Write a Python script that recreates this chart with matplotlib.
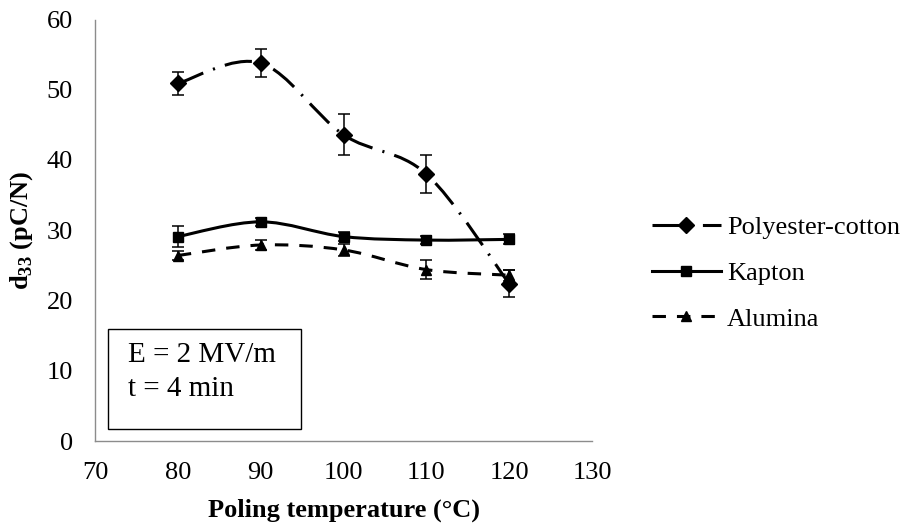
import numpy as np
import matplotlib
matplotlib.use("Agg")
import matplotlib.pyplot as plt
from matplotlib.path import Path
from matplotlib.patches import PathPatch, Rectangle
from matplotlib.lines import Line2D

# данные
temps = [80, 90, 100, 110, 120]
series_names = ["Polyester-cotton", "Kapton", "Alumina"]
polyester = [50.9, 53.8, 43.6, 38.0, 22.4]
polyester_err = [1.6, 2.0, 2.9, 2.7, 1.9]
kapton = [29.1, 31.2, 29.1, 28.6, 28.7]
kapton_err = [1.5, 0.6, 0.6, 0.6, 0.7]
alumina = [26.4, 27.9, 27.2, 24.4, 23.6]
alumina_err = [0.6, 0.7, 0.8, 1.4, 0.8]
x_ticks = [70, 80, 90, 100, 110, 120, 130]
y_ticks = [0, 10, 20, 30, 40, 50, 60]
box_lines = ["E = 2 MV/m", "t = 4 min"]

plt.rcParams.update(
    {
        "font.family": ["Liberation Serif", "DejaVu Serif"],
        "font.size": 19,
        "mathtext.fontset": "custom",
        "mathtext.rm": "Liberation Serif",
        "mathtext.bf": "Liberation Serif:bold",
    }
)


def smooth_path(xs, ys):
    """Сглаженная линия как в Excel: кубические Безье через точки."""
    pts = np.column_stack([xs, ys]).astype(float)
    n = len(pts)
    verts = [pts[0]]
    codes = [Path.MOVETO]
    for i in range(n - 1):
        p_prev = pts[i - 1] if i > 0 else pts[i]
        p_next2 = pts[i + 2] if i + 2 < n else pts[i + 1]
        c1 = pts[i] + (pts[i + 1] - p_prev) / 6.0
        c2 = pts[i + 1] - (p_next2 - pts[i]) / 6.0
        verts += [c1, c2, pts[i + 1]]
        codes += [Path.CURVE4] * 3
    return Path(verts, codes)


fig = plt.figure(figsize=(9.06, 5.30), dpi=100)
ax = fig.add_axes([95 / 906, 89 / 530, 497 / 906, 421.5 / 530])

lw = 2.2
styles = [
    dict(y=polyester, err=polyester_err, marker="D", ms=8.5, ls=(0, (9.0, 3.4, 0.7, 3.4))),
    dict(y=kapton, err=kapton_err, marker="s", ms=6.5, ls="-"),
    dict(y=alumina, err=alumina_err, marker="^", ms=7, ls=(0, (4.4, 3.6))),
]

handles = []
for name, st in zip(series_names, styles):
    patch = PathPatch(
        smooth_path(temps, st["y"]),
        facecolor="none",
        edgecolor="black",
        lw=lw,
        linestyle=st["ls"],
        capstyle="butt",
        zorder=2,
    )
    ax.add_patch(patch)
    ax.errorbar(
        temps, st["y"], yerr=st["err"], fmt="none", ecolor="black",
        elinewidth=1.1, capsize=4.3, capthick=1.1, zorder=3,
    )
    ax.plot(temps, st["y"], linestyle="none", marker=st["marker"],
            ms=st["ms"], color="black", zorder=4)
    handles.append(
        Line2D([], [], color="black", lw=lw, linestyle=st["ls"],
               marker=st["marker"], ms=st["ms"], dash_capstyle="butt")
    )

ax.set_xlim(70, 130)
ax.set_ylim(0, 60)
ax.set_xticks(x_ticks)
ax.set_yticks(y_ticks)
ax.tick_params(axis="x", length=0, pad=15, labelsize=19)
ax.tick_params(axis="y", length=0, pad=16, labelsize=19)
for side in ["top", "right"]:
    ax.spines[side].set_visible(False)
for side in ["left", "bottom"]:
    ax.spines[side].set_color("#8c8c8c")
    ax.spines[side].set_linewidth(1.0)

# рамка с условиями поляризации
ax.add_patch(
    Rectangle((13 / 497, 12 / 421.5), 193 / 497, 100 / 421.5,
              transform=ax.transAxes, facecolor="white", edgecolor="black",
              lw=1.0, zorder=5)
)
ax.text(33 / 497, 69 / 421.5, "\n".join(box_lines), transform=ax.transAxes,
        ha="left", va="center", fontsize=21, linespacing=1.45, zorder=6)

fig.text(344 / 906, 1 - 510 / 530, "Poling temperature (°C)",
         ha="center", va="center", fontsize=19, fontweight="bold")
fig.text(22 / 906, 1 - 230 / 530, r"$\mathbf{d}_{\mathbf{33}}$ (pC/N)",
         ha="center", va="center", rotation=90, fontsize=19, fontweight="bold")

fig.legend(
    handles, series_names,
    loc="center left", bbox_to_anchor=(652 / 906, 1 - 273 / 530),
    frameon=False, fontsize=19, handlelength=2.6, handletextpad=0.25,
    labelspacing=0.85, borderpad=0, borderaxespad=0,
)

fig.savefig("out.png", dpi=100)
plt.close(fig)
